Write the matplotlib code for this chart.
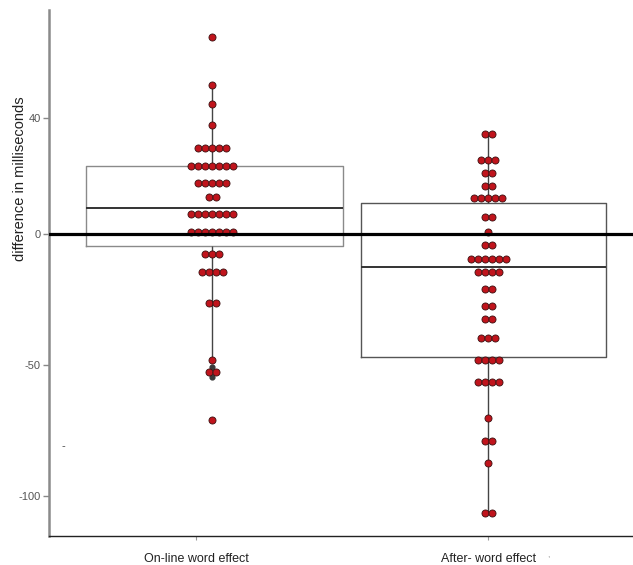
import numpy as np
import matplotlib.pyplot as plt

plt.rcParams['font.family'] = ['Liberation Sans', 'DejaVu Sans']

groups = ["On-line word effect", "After- word effect"]

# dot rows per group: (value in ms, number of dots in the row)
online_vals = [75.2, 56.9, 49.6, 41.6, 32.8, 26.0, 19.5, 14.1, 7.6, 0.8,
               -7.6, -14.5, -26.3, -48.1, -52.7, -71.0]
online_counts = [1, 1, 1, 1, 5, 7, 5, 2, 7, 7, 3, 4, 2, 1, 2, 1]
after_vals = [38.2, 28.2, 23.3, 18.3, 13.7, 6.5, 0.8, -4.2, -9.5, -14.5,
              -21.0, -27.5, -32.4, -39.7, -48.1, -56.5, -70.2, -79.0, -87.4, -106.5]
after_counts = [2, 3, 2, 2, 5, 2, 1, 2, 6, 4, 2, 2, 2, 3, 4, 4, 1, 2, 1, 2]

# box summaries
q1 = [-4.6, -46.9]
med = [9.9, -12.6]
q3 = [26.0, 11.8]
whislo = [-48.1, -106.5]
whishi = [56.9, 38.2]
fliers_dark = [[-50.8, -54.6], []]

yticks = [44.3, 0, -50, -100]
ytick_labels = ["40", "0", "-50", "-100"]

# layout
pos = np.array([1.0, 2.0])
tick_pos = [0.942, 2.0]
box_shift = [0.009, -0.016]
box_width = [0.931, 0.888]
box_edge = ["#8a8a8a", "#555555"]
dot_step = 0.0254

fig = plt.figure(figsize=(6.33, 5.65), dpi=100)
ax = fig.add_axes([0.0774, 0.0513, 0.9226, 0.931])

stats = []
for i in range(2):
    stats.append(dict(med=med[i], q1=q1[i], q3=q3[i],
                      whislo=whislo[i], whishi=whishi[i], fliers=[]))
bp = ax.bxp(stats, positions=pos + np.array(box_shift), widths=box_width,
            showcaps=False, showfliers=False,
            boxprops=dict(linewidth=1.0),
            whiskerprops=dict(visible=False),
            medianprops=dict(color="#333333", linewidth=1.4), manage_ticks=False)
for b, c in zip(bp["boxes"], box_edge):
    b.set_color(c)

# whiskers through the dot stacks
for i in range(2):
    ax.vlines(pos[i], q3[i], whishi[i], color="#444444", linewidth=1.0, zorder=2)
    ax.vlines(pos[i], whislo[i], q1[i], color="#444444", linewidth=1.0, zorder=2)
    if fliers_dark[i]:
        ax.scatter([pos[i]] * len(fliers_dark[i]), fliers_dark[i], s=12,
                   color="#3a3a3a", zorder=3)

# dot stacks
for i, (vals, counts) in enumerate([(online_vals, online_counts),
                                    (after_vals, after_counts)]):
    xs, ys = [], []
    for v, n in zip(vals, counts):
        for k in range(n):
            xs.append(pos[i] + (k - (n - 1) / 2) * dot_step)
            ys.append(v)
    ax.scatter(xs, ys, s=26, color="#c0141c", edgecolor="#3a1010",
               linewidth=0.6, zorder=4)

ax.axhline(0, color="black", linewidth=2.3, zorder=5)

ax.set_xlim(0.409, 2.525)
ax.set_ylim(-115.3, 85.5)
ax.set_xticks(tick_pos)
ax.set_xticklabels(groups, fontsize=9, color="#222222")
ax.set_yticks(yticks)
ax.set_yticklabels(ytick_labels, fontsize=8, color="#555555")
ax.tick_params(axis="y", length=4, width=1, color="#888888", pad=2)
ax.tick_params(axis="x", length=3, width=0.8, color="#999999", pad=9)
ax.set_ylabel("difference in milliseconds", fontsize=10.5, color="#222222")
ax.yaxis.set_label_coords(-0.038, 0.68)

for s in ["top", "right"]:
    ax.spines[s].set_visible(False)
ax.spines["left"].set_color("#8a8a8a")
ax.spines["left"].set_linewidth(1.8)
ax.spines["bottom"].set_color("#222222")
ax.spines["bottom"].set_linewidth(1.0)

# stray marks
ax.text(0.46, -80.9, "-", fontsize=8, color="#444444", ha="center", va="center")
ax.text(2.217, -122.9, ",", fontsize=6, color="#888888", ha="center",
        va="center", clip_on=False)

fig.savefig("out.png", dpi=100)
